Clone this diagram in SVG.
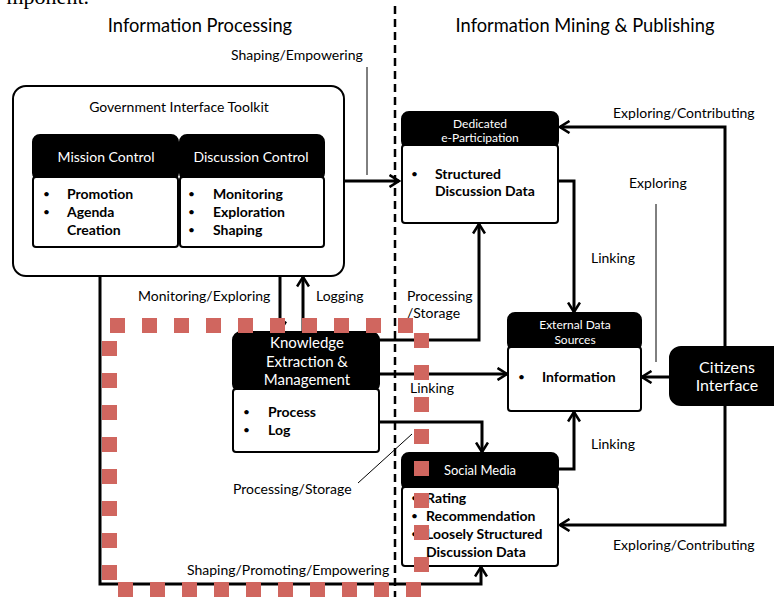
<svg xmlns="http://www.w3.org/2000/svg" width="774" height="597" viewBox="0 0 774 597">
<style>
text{font-family:Lato,"Liberation Sans",sans-serif;fill:#000}
.t{font-size:18.3px}
.lbl{font-size:14px}
.hd{fill:#fff;text-anchor:middle}
.b{font-size:14px;font-weight:bold}
.dot{font-size:12px}
.blk{fill:#000;stroke:#000;stroke-width:2}
.box{fill:#fff;stroke:#000;stroke-width:2}
.con{fill:none;stroke:#000;stroke-width:3}
.thin{fill:none;stroke:#000;stroke-width:1}
.sq{fill:#d0665f}
</style>
<defs>
<marker id="ah" viewBox="0 0 12 14" refX="10.5" refY="7" markerWidth="12" markerHeight="14" markerUnits="userSpaceOnUse" orient="auto">
<path d="M1,1 L10.5,7 L1,13" fill="none" stroke="#000" stroke-width="2.6"/>
</marker>
</defs>
<rect width="774" height="597" fill="#fff"/>
<text x="89" y="4" text-anchor="end" style="font-family:'Liberation Serif',serif;font-size:22px">mponent.</text>
<text class="t" x="200" y="32" text-anchor="middle">Information Processing</text>
<text class="t" x="585" y="32" text-anchor="middle">Information Mining &amp; Publishing</text>
<line x1="395" y1="6" x2="395" y2="597" stroke="#000" stroke-width="2.5" stroke-dasharray="8 5"/>

<g id="connectors">
<path class="con" d="M344,181 H399" marker-end="url(#ah)"/>
<path class="con" d="M725,347 V127 H560" marker-end="url(#ah)"/>
<path class="con" d="M725,405 V525 H560" marker-end="url(#ah)"/>
<path class="con" d="M558,181 H574 V312" marker-end="url(#ah)"/>
<path class="con" d="M558,469 H574 V412" marker-end="url(#ah)"/>
<path class="con" d="M670,377 H642" marker-end="url(#ah)"/>
<path class="con" d="M303,332 V277" marker-end="url(#ah)"/>
<path class="con" d="M280,276 V331" marker-end="url(#ah)"/>
<path class="con" d="M379,340 H479 V224" marker-end="url(#ah)"/>
<path class="con" d="M379,374 H507" marker-end="url(#ah)"/>
<path class="con" d="M379,422 H482 V452" marker-end="url(#ah)"/>
<path class="con" d="M100,276 V584 H481 V567" marker-end="url(#ah)"/>
<line class="thin" x1="367" y1="67" x2="367" y2="175"/>
<line class="thin" x1="656" y1="204" x2="656" y2="362"/>
<line class="thin" x1="358" y1="483" x2="412" y2="434"/>
<text class="lbl" x="231" y="60">Shaping/Empowering</text>
<text class="lbl" x="613" y="118">Exploring/Contributing</text>
<text class="lbl" x="629" y="188">Exploring</text>
<text class="lbl" x="591" y="263">Linking</text>
<text class="lbl" x="138" y="301">Monitoring/Exploring</text>
<text class="lbl" x="316" y="301">Logging</text>
<text class="lbl" x="407" y="301">Processing</text>
<text class="lbl" x="407" y="318">/Storage</text>
<text class="lbl" x="410" y="393">Linking</text>
<text class="lbl" x="591" y="449">Linking</text>
<text class="lbl" x="233" y="494">Processing/Storage</text>
<text class="lbl" x="613" y="550">Exploring/Contributing</text>
<text class="lbl" x="187" y="575">Shaping/Promoting/Empowering</text>
</g>

<g id="gov-toolkit">
<rect class="box" x="13" y="86" width="331" height="190" rx="13"/>
<text class="lbl" x="179" y="112" text-anchor="middle">Government Interface Toolkit</text>
</g>
<g id="mission-control">
<rect class="blk" x="33" y="135" width="145" height="45" rx="7"/>
<text class="hd" x="106" y="162" style="font-size:14px">Mission Control</text>
<rect class="box" x="33" y="177" width="145" height="70" rx="3"/>
<text class="dot" x="43" y="198">•</text><text class="b" x="67" y="199">Promotion</text>
<text class="dot" x="43" y="216">•</text><text class="b" x="67" y="217">Agenda</text>
<text class="b" x="67" y="235">Creation</text>
</g>
<g id="discussion-control">
<rect class="blk" x="180" y="135" width="144" height="45" rx="7"/>
<text class="hd" x="251" y="162" style="font-size:14px">Discussion Control</text>
<rect class="box" x="180" y="177" width="144" height="70" rx="3"/>
<text class="dot" x="188" y="198">•</text><text class="b" x="213" y="199">Monitoring</text>
<text class="dot" x="188" y="216">•</text><text class="b" x="213" y="217">Exploration</text>
<text class="dot" x="188" y="234">•</text><text class="b" x="213" y="235">Shaping</text>
</g>

<g id="e-participation">
<rect class="blk" x="402" y="112" width="156" height="36" rx="7"/>
<text class="hd" x="480" y="128" style="font-size:12px">Dedicated</text>
<text class="hd" x="480" y="142" style="font-size:12px">e-Participation</text>
<rect class="box" x="402" y="145" width="156" height="78" rx="3"/>
<text class="dot" x="411" y="178">•</text><text class="b" x="435" y="179">Structured</text>
<text class="b" x="435" y="196">Discussion Data</text>
</g>

<g id="external-data">
<rect class="blk" x="508" y="313" width="133" height="37" rx="7"/>
<text class="hd" x="575" y="329" style="font-size:12px">External Data</text>
<text class="hd" x="575" y="344" style="font-size:12px">Sources</text>
<rect class="box" x="508" y="347" width="133" height="64" rx="3"/>
<text class="dot" x="518" y="381">•</text><text class="b" x="542" y="382">Information</text>
</g>

<g id="citizens-interface">
<rect class="blk" x="670" y="347" width="130" height="58" rx="11"/>
<text class="hd" x="727" y="373" style="font-size:16px">Citizens</text>
<text class="hd" x="727" y="391" style="font-size:16px">Interface</text>
</g>

<g id="knowledge-extraction">
<rect class="blk" x="233" y="332" width="146" height="60" rx="8"/>
<text class="hd" x="307" y="348" style="font-size:15px">Knowledge</text>
<text class="hd" x="307" y="367" style="font-size:15px">Extraction &amp;</text>
<text class="hd" x="307" y="385" style="font-size:15px">Management</text>
<rect class="box" x="233" y="389" width="146" height="63" rx="3"/>
<text class="dot" x="243" y="416">•</text><text class="b" x="268" y="417">Process</text>
<text class="dot" x="243" y="434">•</text><text class="b" x="268" y="435">Log</text>
</g>

<g id="social-media">
<rect class="blk" x="402" y="453" width="156" height="37" rx="7"/>
<text class="hd" x="480" y="475" style="font-size:13px">Social Media</text>
<rect class="box" x="402" y="487" width="156" height="79" rx="3"/>
<text class="dot" x="411" y="502">•</text><text class="b" x="426" y="503">Rating</text>
<text class="dot" x="411" y="520">•</text><text class="b" x="426" y="521">Recommendation</text>
<text class="dot" x="411" y="538">•</text><text class="b" x="426" y="539">Loosely Structured</text>
<text class="b" x="426" y="557">Discussion Data</text>
</g>

<g id="red-boundary">
<rect class="sq" x="110" y="318" width="15" height="15"/>
<rect class="sq" x="142" y="318" width="15" height="15"/>
<rect class="sq" x="174" y="318" width="15" height="15"/>
<rect class="sq" x="206" y="318" width="15" height="15"/>
<rect class="sq" x="238" y="318" width="15" height="15"/>
<rect class="sq" x="270" y="318" width="15" height="15"/>
<rect class="sq" x="302" y="318" width="15" height="15"/>
<rect class="sq" x="334" y="318" width="15" height="15"/>
<rect class="sq" x="366" y="318" width="15" height="15"/>
<rect class="sq" x="398" y="318" width="15" height="15"/>
<rect class="sq" x="414" y="333" width="15" height="15"/>
<rect class="sq" x="414" y="365" width="15" height="15"/>
<rect class="sq" x="414" y="397" width="15" height="15"/>
<rect class="sq" x="414" y="429" width="15" height="15"/>
<rect class="sq" x="414" y="461" width="15" height="15"/>
<rect class="sq" x="414" y="493" width="15" height="15"/>
<rect class="sq" x="414" y="525" width="15" height="15"/>
<rect class="sq" x="414" y="557" width="15" height="15"/>
<rect class="sq" x="102" y="341" width="15" height="15"/>
<rect class="sq" x="102" y="373" width="15" height="15"/>
<rect class="sq" x="102" y="405" width="15" height="15"/>
<rect class="sq" x="102" y="437" width="15" height="15"/>
<rect class="sq" x="102" y="469" width="15" height="15"/>
<rect class="sq" x="102" y="501" width="15" height="15"/>
<rect class="sq" x="102" y="533" width="15" height="15"/>
<rect class="sq" x="102" y="565" width="15" height="15"/>
<rect class="sq" x="118" y="582" width="15" height="15"/>
<rect class="sq" x="150" y="582" width="15" height="15"/>
<rect class="sq" x="182" y="582" width="15" height="15"/>
<rect class="sq" x="214" y="582" width="15" height="15"/>
<rect class="sq" x="246" y="582" width="15" height="15"/>
<rect class="sq" x="278" y="582" width="15" height="15"/>
<rect class="sq" x="310" y="582" width="15" height="15"/>
<rect class="sq" x="342" y="582" width="15" height="15"/>
<rect class="sq" x="374" y="582" width="15" height="15"/>
<rect class="sq" x="406" y="582" width="15" height="15"/>
</g>
</svg>
